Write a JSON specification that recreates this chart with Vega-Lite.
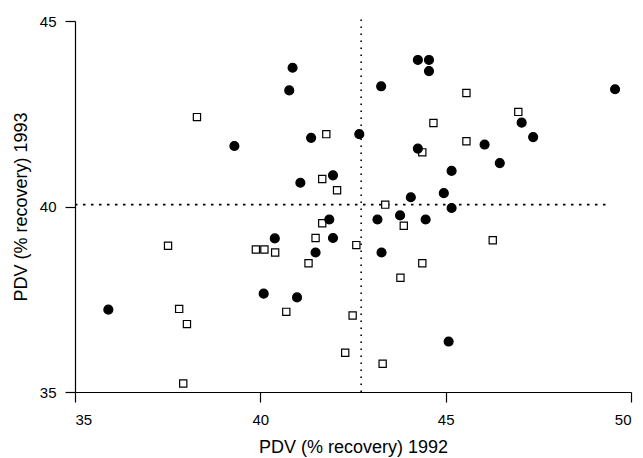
{
  "$schema": "https://vega.github.io/schema/vega-lite/v6.json",
  "width": 556,
  "height": 371,
  "autosize": "none",
  "padding": {"left": 75, "top": 21, "right": 12, "bottom": 66},
  "background": "white",
  "config": {
    "view": {"stroke": null},
    "font": "Liberation Sans",
    "axis": {
      "grid": false,
      "domainColor": "black",
      "domainWidth": 1.2,
      "tickColor": "black",
      "tickWidth": 1.2,
      "tickSize": 10,
      "labelColor": "black",
      "labelFontSize": 15,
      "labelFont": "Liberation Sans",
      "titleFont": "Liberation Sans",
      "titleFontSize": 18,
      "titleFontWeight": "normal",
      "titleColor": "black"
    }
  },
  "datasets": {
    "points": [
      {"x": 38.29, "y": 42.41, "group": "open"},
      {"x": 41.78, "y": 41.95, "group": "open"},
      {"x": 41.67, "y": 40.74, "group": "open"},
      {"x": 45.56, "y": 43.06, "group": "open"},
      {"x": 46.96, "y": 42.55, "group": "open"},
      {"x": 44.67, "y": 42.25, "group": "open"},
      {"x": 45.56, "y": 41.76, "group": "open"},
      {"x": 44.37, "y": 41.46, "group": "open"},
      {"x": 42.07, "y": 40.44, "group": "open"},
      {"x": 43.37, "y": 40.05, "group": "open"},
      {"x": 41.67, "y": 39.55, "group": "open"},
      {"x": 43.87, "y": 39.48, "group": "open"},
      {"x": 41.49, "y": 39.15, "group": "open"},
      {"x": 37.51, "y": 38.94, "group": "open"},
      {"x": 39.88, "y": 38.84, "group": "open"},
      {"x": 40.11, "y": 38.84, "group": "open"},
      {"x": 40.40, "y": 38.76, "group": "open"},
      {"x": 41.30, "y": 38.47, "group": "open"},
      {"x": 37.81, "y": 37.24, "group": "open"},
      {"x": 38.02, "y": 36.83, "group": "open"},
      {"x": 40.70, "y": 37.16, "group": "open"},
      {"x": 37.92, "y": 35.23, "group": "open"},
      {"x": 42.59, "y": 38.96, "group": "open"},
      {"x": 46.27, "y": 39.09, "group": "open"},
      {"x": 44.37, "y": 38.47, "group": "open"},
      {"x": 43.78, "y": 38.08, "group": "open"},
      {"x": 42.49, "y": 37.06, "group": "open"},
      {"x": 42.29, "y": 36.06, "group": "open"},
      {"x": 43.30, "y": 35.76, "group": "open"},
      {"x": 40.87, "y": 43.74, "group": "filled"},
      {"x": 40.78, "y": 43.13, "group": "filled"},
      {"x": 39.30, "y": 41.63, "group": "filled"},
      {"x": 41.37, "y": 41.85, "group": "filled"},
      {"x": 41.08, "y": 40.64, "group": "filled"},
      {"x": 44.25, "y": 43.95, "group": "filled"},
      {"x": 44.55, "y": 43.95, "group": "filled"},
      {"x": 44.55, "y": 43.65, "group": "filled"},
      {"x": 43.26, "y": 43.24, "group": "filled"},
      {"x": 49.57, "y": 43.16, "group": "filled"},
      {"x": 47.05, "y": 42.26, "group": "filled"},
      {"x": 47.36, "y": 41.87, "group": "filled"},
      {"x": 42.67, "y": 41.95, "group": "filled"},
      {"x": 46.05, "y": 41.67, "group": "filled"},
      {"x": 44.25, "y": 41.56, "group": "filled"},
      {"x": 46.46, "y": 41.17, "group": "filled"},
      {"x": 45.16, "y": 40.96, "group": "filled"},
      {"x": 41.96, "y": 40.84, "group": "filled"},
      {"x": 44.95, "y": 40.36, "group": "filled"},
      {"x": 44.06, "y": 40.25, "group": "filled"},
      {"x": 45.16, "y": 39.96, "group": "filled"},
      {"x": 41.86, "y": 39.65, "group": "filled"},
      {"x": 43.16, "y": 39.65, "group": "filled"},
      {"x": 43.77, "y": 39.76, "group": "filled"},
      {"x": 44.46, "y": 39.65, "group": "filled"},
      {"x": 40.39, "y": 39.14, "group": "filled"},
      {"x": 41.96, "y": 39.15, "group": "filled"},
      {"x": 41.49, "y": 38.76, "group": "filled"},
      {"x": 43.27, "y": 38.76, "group": "filled"},
      {"x": 40.09, "y": 37.65, "group": "filled"},
      {"x": 40.99, "y": 37.55, "group": "filled"},
      {"x": 35.90, "y": 37.22, "group": "filled"},
      {"x": 45.08, "y": 36.36, "group": "filled"}
    ],
    "vline": [{"x": 42.72, "y": 35, "y2": 45.11}],
    "hline": [{"y": 40.05, "x": 35, "x2": 49.45}]
  },
  "layer": [
    {
      "data": {"name": "vline"},
      "mark": {"type": "rule", "color": "black", "strokeWidth": 1.6, "strokeDash": [1.6, 5.4]},
      "encoding": {
        "x": {"field": "x", "type": "quantitative", "scale": {"domain": [35, 50], "nice": false, "zero": false}},
        "y": {"field": "y", "type": "quantitative", "scale": {"domain": [35, 45], "nice": false, "zero": false}},
        "y2": {"field": "y2"}
      }
    },
    {
      "data": {"name": "hline"},
      "mark": {"type": "rule", "color": "black", "strokeWidth": 1.6, "strokeDash": [2.5, 5.5]},
      "encoding": {
        "y": {"field": "y", "type": "quantitative"},
        "x": {"field": "x", "type": "quantitative"},
        "x2": {"field": "x2"}
      }
    },
    {
      "data": {"name": "points"},
      "mark": {"type": "point", "filled": false, "strokeWidth": 1.2, "opacity": 1},
      "encoding": {
        "x": {
          "field": "x", "type": "quantitative",
          "title": "PDV (% recovery) 1992",
          "scale": {"domain": [35, 50], "nice": false, "zero": false},
          "axis": {"values": [35, 40, 45, 50], "labelPadding": 10, "titlePadding": 11}
        },
        "y": {
          "field": "y", "type": "quantitative",
          "title": "PDV (% recovery) 1993",
          "scale": {"domain": [35, 45], "nice": false, "zero": false},
          "axis": {"values": [35, 40, 45], "labelPadding": 9, "titlePadding": 9}
        },
        "shape": {
          "field": "group", "type": "nominal",
          "scale": {"domain": ["filled", "open"], "range": ["circle", "square"]},
          "legend": null
        },
        "fill": {
          "field": "group", "type": "nominal",
          "scale": {"domain": ["filled", "open"], "range": ["black", "white"]},
          "legend": null
        },
        "stroke": {"value": "black"},
        "size": {
          "field": "group", "type": "nominal",
          "scale": {"domain": ["filled", "open"], "range": [80, 52]},
          "legend": null
        }
      }
    }
  ]
}
